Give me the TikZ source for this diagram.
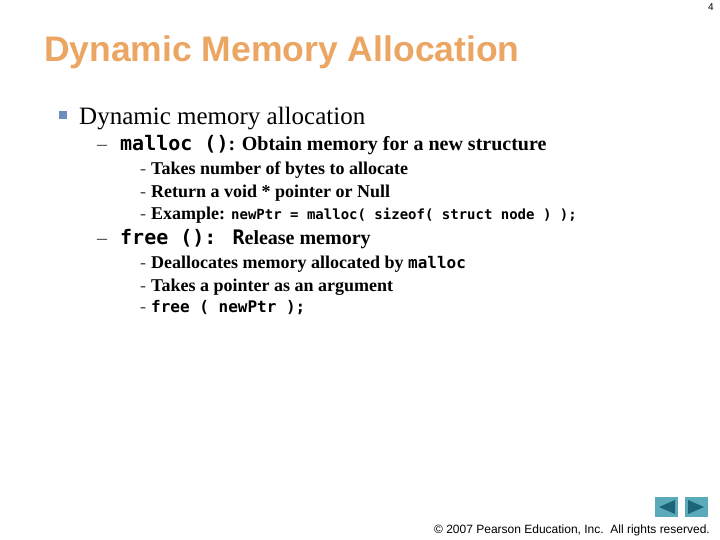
\documentclass[tikz,border=0pt]{standalone}
\usepackage{fontspec}
\setmainfont{Liberation Serif}
\newfontfamily\arial{Liberation Sans}
\newfontfamily\code{DejaVu Sans Mono}
\definecolor{titleor}{RGB}{235,166,100}
\definecolor{bulletb}{RGB}{110,140,190}
\definecolor{btnbg}{RGB}{90,170,185}
\definecolor{btnfg}{RGB}{30,100,120}
\begin{document}
\begin{tikzpicture}[x=1pt,y=-1pt,
  lvl/.style={anchor=base west,inner sep=0pt,font=\bfseries},
  dsh/.style={anchor=base west,inner sep=0pt,text=black!75}]
\useasboundingbox (0,0) rectangle (720,540);
\fill[white] (0,0) rectangle (720,540);
\node[anchor=north east,inner sep=0pt,font=\arial\fontsize{10}{12}\selectfont] (pg) at (714,3) {4};
\node[anchor=base west,inner sep=0pt,text=titleor,font=\arial\bfseries\fontsize{35.5}{40}\selectfont] (title) at (44,62) {Dynamic Memory Allocation};
\fill[bulletb] (59,111) rectangle (67,119);
\node[lvl,font=\fontsize{25}{28}\selectfont] (l1) at (79,125) {Dynamic memory allocation};
\node[dsh,font=\fontsize{20}{22}\selectfont] (d1) at (97,151) {--};
\node[lvl,font=\bfseries\fontsize{20}{22}\selectfont] (l2a) at (120,151) {{\code\bfseries malloc ()}: Obtain memory for a new structure};
\node[dsh,font=\fontsize{18}{20}\selectfont] (e1) at (140,175) {-};
\node[lvl,font=\bfseries\fontsize{18}{20}\selectfont] (l3a) at (151,175) {Takes number of bytes to allocate};
\node[dsh,font=\fontsize{18}{20}\selectfont] (e2) at (140,198) {-};
\node[lvl,font=\bfseries\fontsize{18}{20}\selectfont] (l3b) at (151,198) {Return a void * pointer or Null};
\node[dsh,font=\fontsize{18}{20}\selectfont] (e3) at (140,220) {-};
\node[lvl,font=\bfseries\fontsize{18}{20}\selectfont] (l3c) at (151,220) {Example: {\code\fontsize{14}{16}\selectfont newPtr = malloc( sizeof( struct node ) );}};
\node[dsh,font=\fontsize{20}{22}\selectfont] (d2) at (97,244) {--};
\node[lvl,font=\bfseries\fontsize{20}{22}\selectfont] (l2b) at (120,244) {{\code\bfseries free (): R}elease memory};
\node[dsh,font=\fontsize{18}{20}\selectfont] (e4) at (140,268) {-};
\node[lvl,font=\bfseries\fontsize{18}{20}\selectfont] (l3d) at (151,268) {Deallocates memory allocated by {\code\fontsize{16}{18}\selectfont malloc}};
\node[dsh,font=\fontsize{18}{20}\selectfont] (e5) at (140,291) {-};
\node[lvl,font=\bfseries\fontsize{18}{20}\selectfont] (l3e) at (151,291) {Takes a pointer as an argument};
\node[dsh,font=\fontsize{18}{20}\selectfont] (e6) at (140,312) {-};
\node[lvl,font=\code\bfseries\fontsize{16}{18}\selectfont] (l3f) at (151,312) {free ( newPtr );};
\fill[btnbg] (655,497) rectangle (678,517);
\fill[btnfg] (659,507) -- (675,500) -- (675,514) -- cycle;
\fill[btnbg] (685,497) rectangle (708,517);
\fill[btnfg] (704,507) -- (688,500) -- (688,514) -- cycle;
\node[anchor=base east,inner sep=0pt,font=\arial\fontsize{12}{14}\selectfont] (foot) at (710,533) {© 2007 Pearson Education, Inc.\ \ All rights reserved.};
\end{tikzpicture}
\end{document}
